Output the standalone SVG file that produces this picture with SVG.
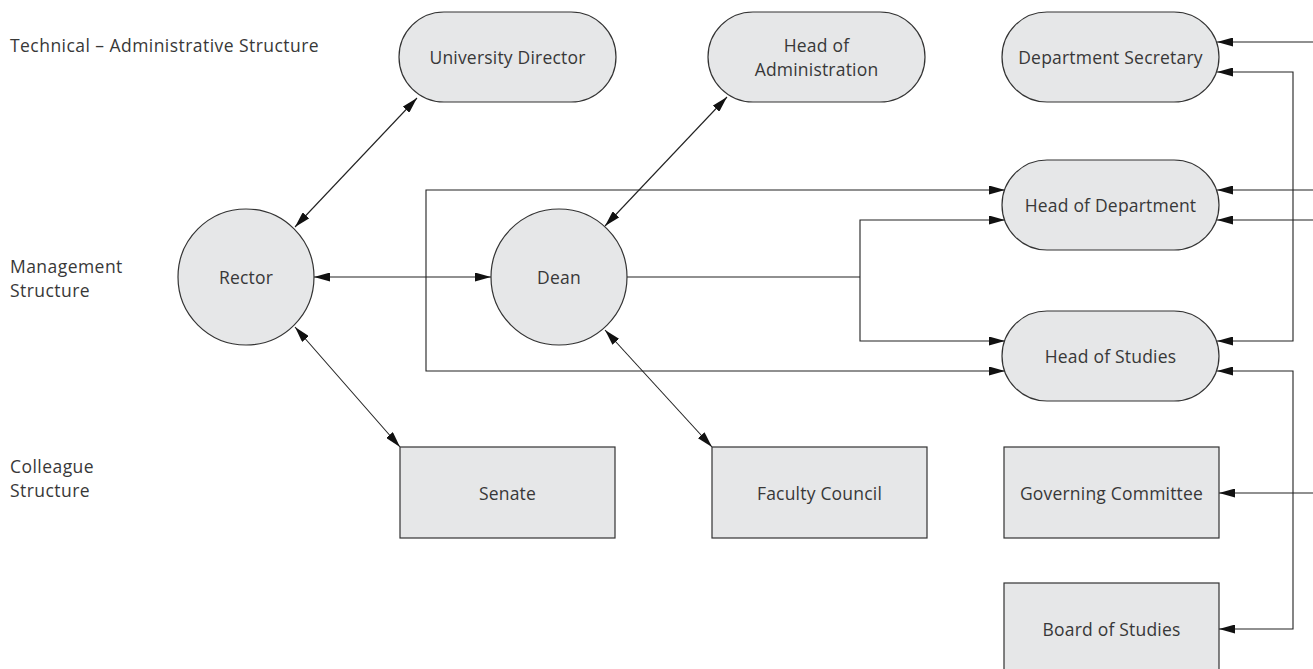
<svg xmlns="http://www.w3.org/2000/svg" width="1313" height="669" viewBox="0 0 1313 669">
<style>
.n{fill:#e6e7e8;stroke:#333;stroke-width:1.2}
.t{font-family:"Open Sans","Noto Sans",sans-serif;font-size:17.5px;fill:#383838;text-anchor:middle;dominant-baseline:central;letter-spacing:0.2px}
.l{font-family:"Open Sans","Noto Sans",sans-serif;font-size:17.5px;fill:#383838;letter-spacing:0.45px}
.c{fill:none;stroke:#222;stroke-width:1.1}
</style>
<defs>
<marker id="a" viewBox="0 0 16 9" refX="16" refY="4.5" markerWidth="16" markerHeight="9" markerUnits="userSpaceOnUse" orient="auto-start-reverse">
<path d="M0,0 L16,4.5 L0,9 z" fill="#111"/>
</marker>
</defs>
<rect width="1313" height="669" fill="#fff"/>
<g id="labels">
<text class="l" x="10" y="52">Technical – Administrative Structure</text>
<text class="l" x="10" y="273">Management</text>
<text class="l" x="10" y="297">Structure</text>
<text class="l" x="10" y="473">Colleague</text>
<text class="l" x="10" y="497">Structure</text>
</g>
<g id="connectors">
<path class="c" d="M1313,42 H1217" marker-end="url(#a)"/>
<path class="c" d="M1217,72 H1293 V341 H1217" marker-start="url(#a)" marker-end="url(#a)"/>
<path class="c" d="M1313,190 H1217" marker-end="url(#a)"/>
<path class="c" d="M1313,220 H1217" marker-end="url(#a)"/>
<path class="c" d="M1217,371 H1293 V629 H1219" marker-start="url(#a)" marker-end="url(#a)"/>
<path class="c" d="M1313,493 H1219" marker-end="url(#a)"/>
<path class="c" d="M1005,190 H426 V371 H1005" marker-start="url(#a)" marker-end="url(#a)"/>
<path class="c" d="M627,277 H860"/>
<path class="c" d="M860,277 V220 H1005" marker-end="url(#a)"/>
<path class="c" d="M860,277 V341 H1005" marker-end="url(#a)"/>
<path class="c" d="M314,277 H491" marker-start="url(#a)" marker-end="url(#a)"/>
<path class="c" d="M295,227 L417,98" marker-start="url(#a)" marker-end="url(#a)"/>
<path class="c" d="M605,226 L727,97" marker-start="url(#a)" marker-end="url(#a)"/>
<path class="c" d="M295,327 L400,447" marker-start="url(#a)" marker-end="url(#a)"/>
<path class="c" d="M605,330 L712,447" marker-start="url(#a)" marker-end="url(#a)"/>
</g>
<g id="university-director"><rect class="n" x="399" y="12" width="217" height="90" rx="45"/><text class="t" x="507.5" y="57">University Director</text></g>
<g id="head-of-administration"><rect class="n" x="708" y="12" width="217" height="90" rx="45"/><text class="t" x="816.5" y="45">Head of</text><text class="t" x="816.5" y="69">Administration</text></g>
<g id="department-secretary"><rect class="n" x="1002" y="12" width="217" height="90" rx="45"/><text class="t" x="1110.5" y="57">Department Secretary</text></g>
<g id="head-of-department"><rect class="n" x="1002" y="160" width="217" height="90" rx="45"/><text class="t" x="1110.5" y="205">Head of Department</text></g>
<g id="head-of-studies"><rect class="n" x="1002" y="311" width="217" height="90" rx="45"/><text class="t" x="1110.5" y="356">Head of Studies</text></g>
<g id="rector"><circle class="n" cx="246" cy="277" r="68"/><text class="t" x="246" y="277">Rector</text></g>
<g id="dean"><circle class="n" cx="559" cy="277" r="68"/><text class="t" x="559" y="277">Dean</text></g>
<g id="senate"><rect class="n" x="400" y="447" width="215" height="91"/><text class="t" x="507.5" y="493">Senate</text></g>
<g id="faculty-council"><rect class="n" x="712" y="447" width="215" height="91"/><text class="t" x="819.5" y="493">Faculty Council</text></g>
<g id="governing-committee"><rect class="n" x="1004" y="447" width="215" height="91"/><text class="t" x="1111.5" y="493">Governing Committee</text></g>
<g id="board-of-studies"><rect class="n" x="1004" y="583" width="215" height="100"/><text class="t" x="1111.5" y="629">Board of Studies</text></g>
</svg>
